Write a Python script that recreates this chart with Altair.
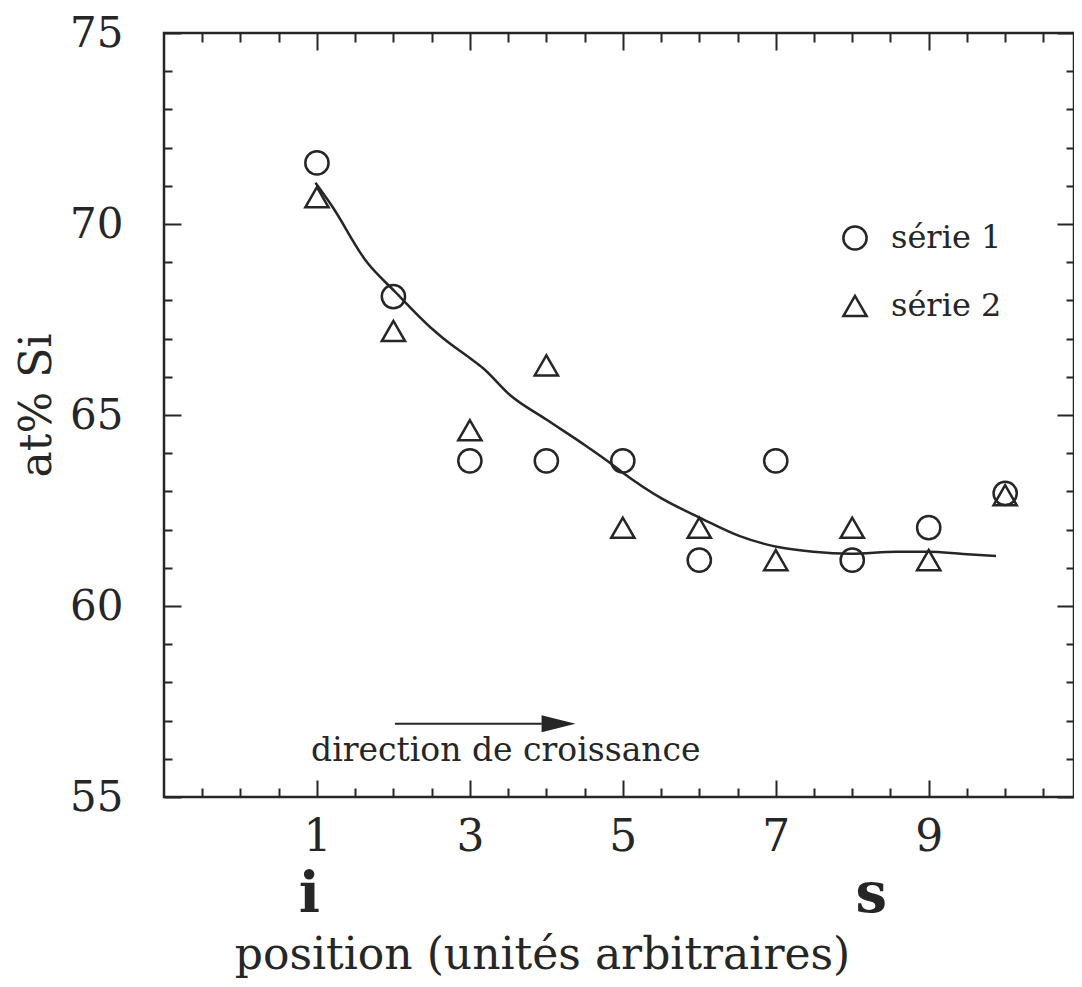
import altair as alt
import pandas as pd

INK = "#262626"
FONT = "DejaVu Serif"

# ---- data ----
positions = [1, 2, 3, 4, 5, 6, 7, 8, 9, 10]
serie1 = [71.6, 68.1, 63.8, 63.8, 63.8, 61.2, 63.8, 61.2, 62.05, 62.95]
serie2 = [70.7, 67.2, 64.6, 66.3, 62.05, 62.05, 61.2, 62.05, 61.2, 62.9]
series_names = ["série 1", "série 2"]

curve_x = [0.98, 1.19, 1.65, 2.02, 2.52, 2.65, 3.0, 3.17, 3.52, 4.0, 4.46, 4.83,
           5.0, 5.53, 6.01, 6.53, 7.01, 7.49, 7.98, 8.58, 9.0, 9.45, 9.88]
curve_y = [71.08, 70.49, 69.01, 68.23, 67.23, 67.01, 66.49, 66.23, 65.53, 64.88, 64.27, 63.75,
           63.49, 62.79, 62.31, 61.83, 61.55, 61.42, 61.37, 61.42, 61.42, 61.36, 61.31]

x_tick_values = [-0.5, 0, 0.5, 1, 1.5, 2, 2.5, 3, 3.5, 4, 4.5, 5, 5.5, 6, 6.5, 7,
                 7.5, 8, 8.5, 9, 9.5, 10, 10.5]
y_tick_values = [55, 56, 57, 58, 59, 60, 61, 62, 63, 64, 65, 66, 67, 68, 69, 70,
                 71, 72, 73, 74, 75]

arrow_x = [2.02]
arrow_x2 = [3.94]
arrow_y = [56.92]
arrow_head_x = [4.16]
note_text = ["direction de croissance"]
note_x = [3.47]
note_y = [55.94]

end_labels = ["i", "s"]
end_x = [0.90, 8.25]

W, H = 910, 764

pts = pd.DataFrame({
    "x": positions + positions,
    "y": serie1 + serie2,
    "serie": [series_names[0]] * len(positions) + [series_names[1]] * len(positions),
})
curve = pd.DataFrame({"x": curve_x, "y": curve_y})
arrow = pd.DataFrame({"x": arrow_x, "x2": arrow_x2, "y": arrow_y})
head = pd.DataFrame({"x": arrow_head_x, "y": arrow_y})
note = pd.DataFrame({"x": note_x, "y": note_y, "t": note_text})
ends = pd.DataFrame({"x": end_x, "t": end_labels})

xscale = alt.Scale(domain=[-1, 10.9], nice=False, zero=False)
yscale = alt.Scale(domain=[55, 75], nice=False, zero=False)

xaxis = alt.Axis(
    values=x_tick_values,
    labelExpr="datum.value % 2 === 1 ? '' + datum.value : ''",
    labelFont=FONT, labelFontSize=44, labelColor=INK, labelPadding=18,
    labelOverlap=False, labelFlush=False, labelBound=False,
    ticks=False, domain=False,
    grid=True, gridColor=INK, gridWidth=2, gridOpacity=1,
    gridDash={"condition": {"test": "datum.value % 2 === 1", "value": [17, H - 34]},
              "value": [9, H - 18]},
    title="position (unités arbitraires)",
    titleFont=FONT, titleFontSize=44, titleFontWeight="normal", titleColor=INK,
    titleX=378, titleY=171, titleAlign="center", titleBaseline="alphabetic",
    titleAnchor="start",
)
yaxis = alt.Axis(
    values=y_tick_values,
    labelExpr="datum.value % 5 === 0 ? '' + datum.value : ''",
    labelFont=FONT, labelFontSize=42, labelColor=INK, labelPadding=41,
    labelOverlap=False, labelFlush=False, labelBound=False,
    ticks=False, domain=False,
    grid=True, gridColor=INK, gridWidth=2, gridOpacity=1,
    gridDash={"condition": {"test": "datum.value % 5 === 0", "value": [17, W - 34]},
              "value": [8, W - 16]},
    title="at% Si",
    titleFont=FONT, titleFontSize=44, titleFontWeight="normal", titleColor=INK,
    titleAngle=270, titleX=-114, titleY=372, titleAlign="center",
    titleBaseline="alphabetic", titleAnchor="start",
)

X = alt.X("x:Q", scale=xscale, axis=xaxis)
Y = alt.Y("y:Q", scale=yscale, axis=yaxis)

points = alt.Chart(pts).mark_point(
    filled=False, strokeWidth=2.5, color=INK, opacity=1, size=540
).encode(
    x=X, y=Y,
    shape=alt.Shape(
        "serie:N",
        scale=alt.Scale(domain=series_names, range=["circle", "triangle-up"]),
        legend=alt.Legend(
            title=None, orient="none", legendX=675, legendY=189,
            labelFont=FONT, labelFontSize=32, labelColor=INK, labelOffset=20,
            symbolSize=540, symbolStrokeWidth=2.5, symbolStrokeColor=INK,
            symbolFillColor="white", rowPadding=35, padding=0,
        ),
    ),
)

line = alt.Chart(curve).mark_line(
    interpolate="monotone", strokeWidth=2.5, color=INK
).encode(x=X, y=Y)

arrow_rule = alt.Chart(arrow).mark_rule(strokeWidth=2, color=INK).encode(
    x=X, x2="x2:Q", y=Y
)
arrow_tip = alt.Chart(head).mark_point(
    shape="M-1,-0.5L1,0L-1,0.5Z", filled=True, size=1156, color=INK, opacity=1
).encode(x=X, y=Y)

note_layer = alt.Chart(note).mark_text(
    font=FONT, fontSize=33, color=INK, align="center", baseline="alphabetic"
).encode(x=X, y=Y, text="t:N")

ends_layer = alt.Chart(ends).mark_text(
    font=FONT, fontSize=56, fontWeight="bold", color=INK,
    align="center", baseline="alphabetic"
).encode(x=X, y=alt.value(879), text="t:N")

chart = alt.layer(line, points, arrow_rule, arrow_tip, note_layer, ends_layer).properties(
    width=W, height=H,
    background="white",
    autosize=alt.AutoSizeParams(type="none"),
    padding={"left": 156, "top": 25, "right": 0, "bottom": 182},
).configure_view(
    stroke=INK, strokeWidth=2.5
)

chart.save("out.html", embed_options={"renderer": "svg", "actions": False})
